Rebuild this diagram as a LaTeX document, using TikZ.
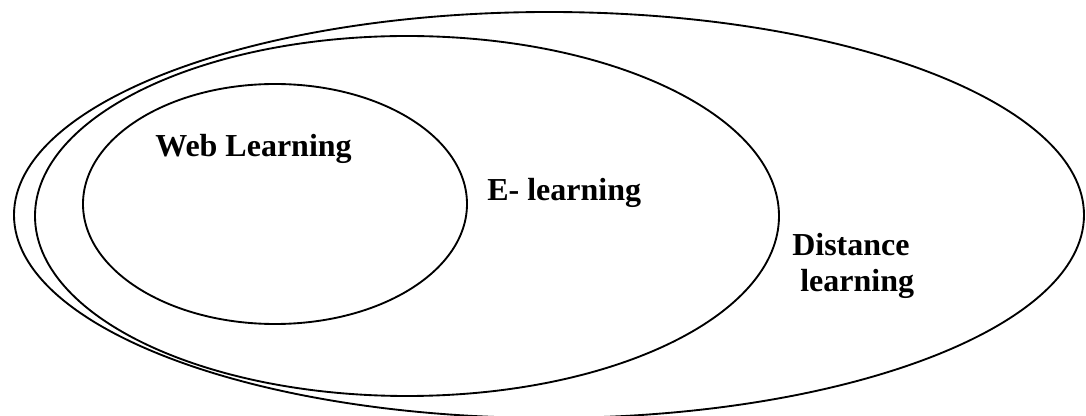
\documentclass[tikz,border=0pt]{standalone}
\usepackage{fontspec}
\setmainfont{Liberation Serif}
\begin{document}
\begin{tikzpicture}[x=0.75pt, y=-0.75pt,
    ring/.style={line width=1.4pt},
    lbl/.style={font=\fontsize{24}{27}\selectfont\bfseries, inner sep=0pt, anchor=base west}]
    \useasboundingbox (0, 0) rectangle (1086, 416);
    \draw[ring] (549, 215) ellipse [x radius=535, y radius=203];
    \draw[ring] (407, 216) ellipse [x radius=372, y radius=180];
    \draw[ring] (275, 204) ellipse [x radius=192, y radius=120];
    \node[lbl] (web) at (155, 157) {Web Learning};
    \node[lbl] (elearn) at (487, 201) {E- learning};
    \node[lbl] (dist) at (792, 256) {Distance};
    \node[lbl] (distb) at (800, 292) {learning};
\end{tikzpicture}
\end{document}
